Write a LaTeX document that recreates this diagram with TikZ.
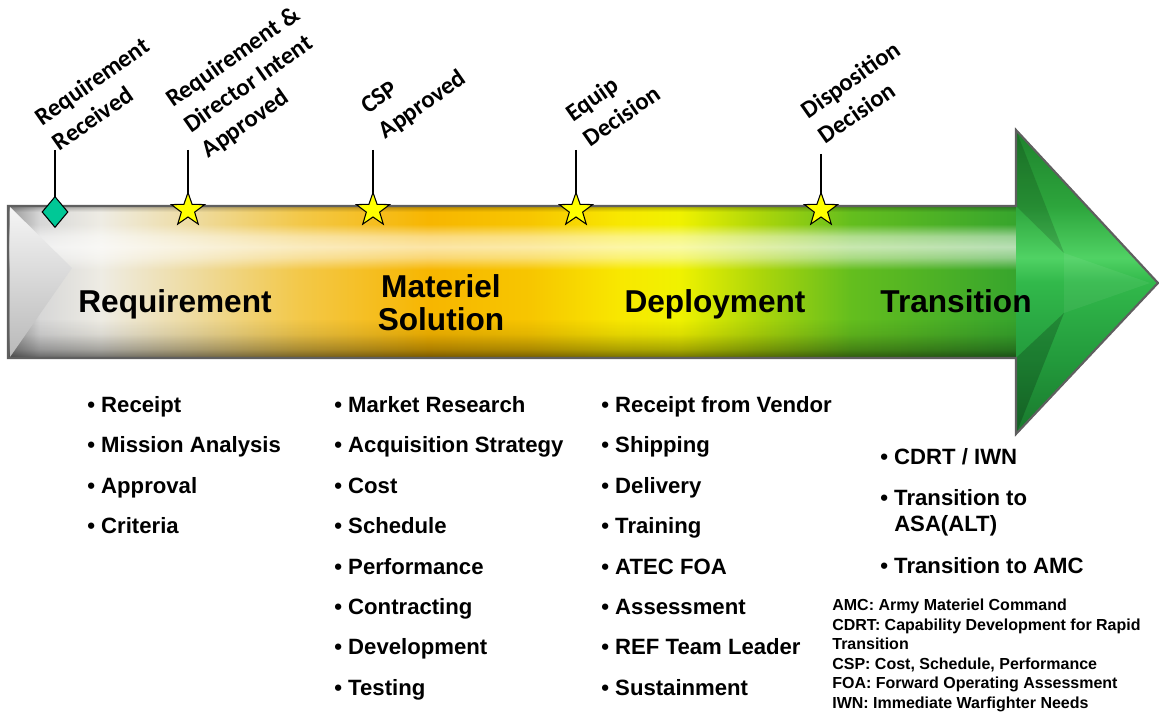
\documentclass[tikz,border=0pt]{standalone}
\usepackage{fontspec}
\setmainfont{Liberation Sans}
\newfontfamily\calibri{Carlito}
\usetikzlibrary{shapes.geometric,fadings}

\definecolor{ph0}{RGB}{150,150,150}
\definecolor{ph1}{RGB}{215,215,215}
\definecolor{ph2}{RGB}{238,236,228}
\definecolor{ph3}{RGB}{238,218,155}
\definecolor{ph4}{RGB}{243,200,72}
\definecolor{ph5}{RGB}{247,182,0}
\definecolor{ph6}{RGB}{247,198,0}
\definecolor{ph7}{RGB}{248,232,0}
\definecolor{ph8}{RGB}{240,242,0}
\definecolor{ph9}{RGB}{172,214,10}
\definecolor{ph10}{RGB}{100,190,30}
\definecolor{ph11}{RGB}{55,165,45}
\definecolor{hd0}{RGB}{30,130,45}
\definecolor{hd1}{RGB}{45,165,60}
\definecolor{hd2}{RGB}{80,210,100}
\definecolor{hd3}{RGB}{50,185,75}
\definecolor{hd4}{RGB}{35,155,60}
\definecolor{hd5}{RGB}{25,120,45}
\definecolor{rim}{RGB}{95,95,95}
\definecolor{gate}{RGB}{0,200,150}
\definecolor{starfill}{RGB}{255,255,0}

\pgfdeclarehorizontalshading{phases}{100bp}{color(0bp)=(ph0); color(25bp)=(ph0);
  color(26.6bp)=(ph1); color(29.6bp)=(ph2); color(34.5bp)=(ph3); color(39.5bp)=(ph4);
  color(45.9bp)=(ph5); color(50.9bp)=(ph6); color(55.4bp)=(ph7); color(58.3bp)=(ph8);
  color(62.3bp)=(ph9); color(66.8bp)=(ph10); color(75bp)=(ph11); color(100bp)=(ph11)}
\pgfdeclareverticalshading{headshade}{100bp}{color(0bp)=(hd5); color(25bp)=(hd5);
  color(37.5bp)=(hd4); color(50bp)=(hd3); color(54bp)=(hd2); color(62.5bp)=(hd1);
  color(75bp)=(hd0); color(100bp)=(hd0)}
\pgfdeclareverticalshading{bevelshade}{100bp}{color(0bp)=(gray!55); color(25bp)=(gray!55);
  color(75bp)=(gray!8); color(100bp)=(gray!8)}
\pgfdeclareverticalshading{darkfadeshade}{100bp}{color(0bp)=(white!55!black);
  color(25bp)=(white!55!black); color(28bp)=(white!30!black); color(33bp)=(white!8!black);
  color(38bp)=(black); color(73bp)=(black); color(75bp)=(white!30!black);
  color(100bp)=(white!30!black)}
\pgfdeclareverticalshading{glowfadeshade}{100bp}{color(0bp)=(black); color(54bp)=(black);
  color(58bp)=(white!45!black); color(61.5bp)=(white!65!black); color(65bp)=(white!50!black);
  color(69bp)=(black); color(100bp)=(black)}

\begin{tikzfadingfrompicture}[name=darkfade]
  \shade[shading=darkfadeshade] (-25bp,-25bp) rectangle (25bp,25bp);
\end{tikzfadingfrompicture}
\begin{tikzfadingfrompicture}[name=glowfade]
  \shade[shading=glowfadeshade] (-25bp,-25bp) rectangle (25bp,25bp);
\end{tikzfadingfrompicture}

\begin{document}
\begin{tikzpicture}[x=0.02cm,y=-0.02cm,
    stem/.style={line width=1.6pt},
    starmark/.style={star,star points=5,star point ratio=2.5,draw=black,fill=starfill,
      inner sep=0,minimum size=0.7cm,line width=0.6pt},
    gatemark/.style={diamond,draw=black,fill=gate,inner sep=0,
      minimum width=0.52cm,minimum height=0.62cm,line width=0.6pt},
    milestone/.style={rotate=35,anchor=south west,inner sep=0,align=left,
      font=\calibri\bfseries\fontsize{14}{17.5}\selectfont},
    phase/.style={inner sep=0,font=\bfseries\fontsize{18}{18.7}\selectfont},
    tasks/.style={anchor=north west,inner sep=0,align=left,
      font=\bfseries\fontsize{12.6}{23}\selectfont},
    notes/.style={anchor=north west,inner sep=0,align=left,
      font=\bfseries\fontsize{9.1}{11.1}\selectfont}]
  \useasboundingbox (0,0) rectangle (1159,712);

  % shaft
  \shade[shading=phases] (8,206) rectangle (1016,358);
  \fill[black,path fading=darkfade] (8,206) rectangle (1016,358);
  \fill[white,path fading=glowfade] (8,206) rectangle (1016,358);
  \shade[shading=bevelshade] (10,207) -- (72,268) -- (10,357) -- cycle;

  % head
  \shade[shading=headshade] (1016,130) -- (1158,283) -- (1016,434) -- cycle;
  \fill[black,opacity=0.15] (1016,130) -- (1064,253) -- (1016,206) -- cycle;
  \fill[black,opacity=0.2] (1016,434) -- (1064,313) -- (1016,358) -- cycle;
  \fill[white,opacity=0.06] (1064,253) -- (1150,283) -- (1064,313) -- cycle;
  \draw[rim,line width=1.2pt] (8,206) -- (1016,206) -- (1016,130) -- (1158,283)
    -- (1016,434) -- (1016,358) -- (8,358) -- cycle;

  % milestones
  \coordinate (t0) at (55,150);
  \coordinate (t1) at (188,150);
  \coordinate (t2) at (373,150);
  \coordinate (t3) at (576,150);
  \coordinate (t4) at (821,154);
  \draw[stem] (t0) -- (55,212);
  \draw[stem] (t1) -- (188,210);
  \draw[stem] (t2) -- (373,210);
  \draw[stem] (t3) -- (576,210);
  \draw[stem] (t4) -- (821,210);
  \node[gatemark] (d0) at (55,212) {};
  \node[starmark] (s1) at (188,210) {};
  \node[starmark] (s2) at (373,210) {};
  \node[starmark] (s3) at (576,210) {};
  \node[starmark] (s4) at (821,210) {};

  \node[milestone] (m0) at (60,152) {Requirement\\Received};
  \node[milestone] (m1) at (211,162) {Requirement \&\\Director Intent\\Approved};
  \node[milestone] (m2) at (388,143) {CSP\\Approved};
  \node[milestone] (m3) at (591,148) {Equip\\Decision};
  \node[milestone] (m4) at (826,145) {Disposition\\Decision};

  % phases
  \node[phase,anchor=base] (req) at (175,313) {Requirement};
  \node[phase,align=center] (mat) at (441,303) {Materiel\\Solution};
  \node[phase,anchor=base] (dep) at (715,313) {Deployment};
  \node[phase,anchor=base] (trn) at (956,313) {Transition};

  % activities
  \node[tasks] (reqlist) at (87,396) {• Receipt\\• Mission Analysis\\• Approval\\• Criteria};
  \node[tasks] (matlist) at (334,396) {• Market Research\\• Acquisition Strategy\\• Cost\\• Schedule\\• Performance\\• Contracting\\• Development\\• Testing};
  \node[tasks] (deplist) at (601,396) {• Receipt from Vendor\\• Shipping\\• Delivery\\• Training\\• ATEC FOA\\• Assessment\\• REF Team Leader\\• Sustainment};
  \node[tasks,font=\bfseries\fontsize{12.6}{14.8}\selectfont] (trnlist) at (880,448)
    {• CDRT / IWN\\[8.5pt]• Transition to\\\hphantom{• }ASA(ALT)\\[9pt]• Transition to AMC};

  \node[notes] (acro) at (832,599) {AMC: Army Materiel Command\\CDRT: Capability Development for Rapid\\Transition\\CSP: Cost, Schedule, Performance\\FOA: Forward Operating Assessment\\IWN: Immediate Warfighter Needs};
\end{tikzpicture}
\end{document}
